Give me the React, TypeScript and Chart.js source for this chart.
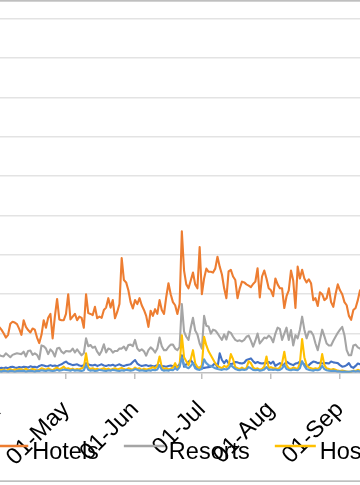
import React, { useEffect, useRef } from 'react';
import { Chart, registerables } from 'chart.js';

Chart.register(...registerables);

// ---- data -----------------------------------------------------------------
const MONTHS = ['Apr', 'May', 'Jun', 'Jul', 'Aug', 'Sep'];
const MONTH_DAYS = [30, 31, 30, 31, 31, 12];

const SERIES_NAMES = ['Apartments', 'Hotels', 'Resorts', 'Hostels', 'Villas'];
const SERIES_COLORS = ['#4472C4', '#ED7D31', '#A5A5A5', '#FFC000', '#5B9BD5'];

const apartments = [
  12, 13, 12, 14, 12, 15, 16, 14, 13, 15,
  14, 16, 15, 14, 17, 15, 16, 14, 18, 20,
  19, 17, 18, 20, 18, 19, 17, 20, 22, 26,
  29, 24, 22, 20, 21, 22, 19, 18, 20, 25,
  22, 20, 19, 21, 18, 20, 22, 19, 18, 20,
  19, 21, 18, 20, 22, 19, 18, 20, 21, 22,
  28, 33, 24, 20, 18, 19, 20, 18, 19, 17,
  18, 20, 19, 18, 17, 16, 18, 19, 17, 16,
  16, 22, 45, 16, 22, 29, 33, 25, 16, 12,
  14, 12, 13, 14, 15, 16, 20, 25, 14, 50,
  33, 25, 33, 24, 22, 24, 28, 27, 25, 24,
  26, 33, 35, 37, 30, 25, 28, 25, 24, 25,
  25, 28, 24, 29, 18, 22, 25, 20, 22, 29,
  25, 22, 20, 24, 25, 29, 26, 22, 16, 20,
  25, 29, 28, 25, 26, 24, 25, 25, 24, 29,
  27, 26, 25, 20, 16, 17, 20, 25, 16, 13,
  18, 24, 22, 20, 21,
];

const hotels = [
  117, 110, 101, 90, 97, 125, 130, 128, 124, 112,
  97, 134, 117, 109, 103, 113, 110, 90, 76, 97,
  134, 115, 140, 150, 88, 143, 188, 136, 134, 134,
  150, 200, 136, 143, 150, 134, 143, 140, 115, 200,
  152, 150, 147, 168, 139, 143, 140, 160, 166, 190,
  166, 185, 139, 155, 175, 292, 236, 230, 210, 180,
  164, 185, 175, 190, 172, 160, 145, 117, 158, 145,
  162, 150, 185, 160, 150, 193, 228, 200, 180, 172,
  150, 175, 360, 260, 225, 215, 235, 255, 225, 215,
  320, 200, 240, 265, 257, 257, 255, 265, 295, 270,
  250, 215, 190, 258, 262, 245, 236, 190, 215, 232,
  230, 225, 222, 218, 226, 232, 266, 192, 245, 260,
  240, 215, 210, 195, 240, 225, 215, 215, 165, 195,
  210, 260, 235, 165, 270, 240, 262, 240, 230, 238,
  228, 185, 190, 170, 205, 200, 185, 190, 215, 180,
  168, 200, 225, 210, 200, 180, 172, 145, 135, 160,
  165, 185, 210, 205, 200,
];

const resorts = [
  46, 43, 42, 50, 45, 40, 46, 48, 50, 49,
  48, 54, 42, 56, 57, 46, 50, 46, 35, 70,
  68, 62, 48, 60, 54, 42, 62, 64, 54, 50,
  56, 55, 55, 62, 52, 60, 52, 45, 50, 88,
  68, 71, 64, 67, 54, 46, 56, 73, 52, 62,
  60, 52, 56, 56, 62, 62, 67, 58, 71, 72,
  68, 84, 62, 56, 60, 55, 44, 58, 65, 60,
  52, 62, 90, 68, 58, 58, 66, 72, 72, 62,
  58, 66, 175, 105, 92, 84, 115, 140, 108, 98,
  75, 62, 145, 120, 118, 100, 110, 108, 101, 92,
  84, 98, 85, 105, 102, 92, 84, 81, 83, 80,
  84, 92, 95, 82, 67, 82, 100, 75, 82, 90,
  88, 95, 90, 78, 100, 115, 112, 84, 100, 115,
  84, 109, 70, 96, 88, 110, 143, 110, 88, 105,
  105, 96, 75, 58, 84, 110, 93, 75, 70, 70,
  82, 92, 102, 110, 117, 96, 58, 45, 45, 70,
  72, 65, 62, 64, 63,
];

const hostels = [
  8, 7, 9, 6, 8, 10, 7, 9, 8, 10,
  9, 8, 11, 7, 8, 10, 9, 6, 8, 12,
  10, 8, 12, 9, 7, 11, 14, 9, 12, 16,
  10, 12, 9, 11, 8, 10, 9, 12, 14, 50,
  14, 10, 12, 9, 11, 8, 10, 12, 9, 11,
  8, 10, 12, 9, 11, 13, 10, 8, 12, 10,
  9, 14, 10, 12, 8, 11, 9, 10, 12, 15,
  12, 18, 42, 15, 10, 12, 9, 11, 14, 25,
  12, 18, 96, 40, 30, 20, 35, 58, 25, 15,
  12, 20, 92, 70, 55, 45, 35, 25, 18, 15,
  12, 18, 15, 20, 48, 35, 15, 12, 10, 14,
  10, 12, 30, 25, 14, 10, 12, 8, 10, 16,
  42, 12, 15, 12, 12, 10, 14, 25, 54, 20,
  12, 10, 14, 12, 10, 25, 86, 40, 20, 14,
  12, 10, 12, 10, 15, 48, 20, 12, 10, 8,
  10, 8, 6, 5, 6, 5, 4, 3, 4, 6,
  5, 8, 6, 6, 5,
];

const villas = [
  5, 4, 6, 5, 4, 6, 5, 4, 5, 6,
  5, 6, 4, 5, 6, 5, 4, 6, 5, 7,
  6, 5, 7, 6, 5, 6, 8, 6, 7, 9,
  8, 7, 6, 8, 6, 7, 6, 5, 7, 20,
  8, 6, 7, 5, 6, 8, 7, 6, 5, 7,
  6, 8, 7, 6, 5, 7, 6, 8, 7, 6,
  7, 10, 8, 6, 7, 6, 5, 7, 6, 8,
  7, 9, 20, 8, 6, 7, 6, 8, 7, 12,
  8, 15, 40, 20, 15, 12, 18, 25, 12, 9,
  8, 10, 35, 25, 20, 18, 15, 12, 10, 9,
  8, 10, 9, 12, 20, 15, 10, 8, 7, 9,
  8, 9, 15, 12, 8, 7, 8, 6, 7, 9,
  15, 8, 9, 8, 9, 7, 8, 12, 20, 10,
  8, 7, 9, 8, 7, 12, 30, 18, 10, 8,
  7, 6, 8, 7, 9, 18, 10, 7, 6, 5,
  6, 5, 4, 4, 3, 4, 3, 3, 4, 5,
  4, 5, 4, 4, 4,
];

const SERIES_VALUES = [apartments, hotels, resorts, hostels, villas];

const Y_MIN = 0;
const Y_MAX = 900;
const Y_STEP = 100;

// ---- helpers ----------------------------------------------------------------
function buildDayLabels(): string[] {
  const out: string[] = [];
  MONTHS.forEach((m, mi) => {
    for (let d = 1; d <= MONTH_DAYS[mi]; d++) {
      out.push(`${d < 10 ? '0' : ''}${d}-${m}`);
    }
  });
  return out;
}

const FONT_FAMILY = '"Liberation Sans", Arial, Helvetica, sans-serif';
const FONT_SIZE = 23.5;

const framePlugin = {
  id: 'outerFrame',
  beforeDraw(chart: any) {
    const { ctx, width } = chart;
    ctx.save();
    ctx.strokeStyle = '#bfbfbf';
    ctx.lineWidth = 1.7;
    ctx.strokeRect(1, 0.85, width - 2, 480.3);
    ctx.restore();
  },
};

const lineLegendPlugin = {
  id: 'lineLegend',
  afterDraw(chart: any) {
    const ctx = chart.ctx;
    ctx.save();
    ctx.font = `${FONT_SIZE}px ${FONT_FAMILY}`;
    const LINE = 41;
    const GAP = 4;
    const SPACE = 25;
    const items = chart.data.datasets.map((ds: any) => ({
      text: ds.label,
      color: ds.borderColor,
      w: ctx.measureText(ds.label).width,
    }));
    const total =
      items.reduce((a: number, it: any) => a + LINE + GAP + it.w, 0) + SPACE * (items.length - 1);
    let x = (chart.width - total) / 2;
    const yLine = 446;
    const yText = 459;
    for (const it of items) {
      ctx.strokeStyle = it.color;
      ctx.lineWidth = 2.5;
      ctx.beginPath();
      ctx.moveTo(x, yLine);
      ctx.lineTo(x + LINE, yLine);
      ctx.stroke();
      ctx.fillStyle = '#000000';
      ctx.textAlign = 'left';
      ctx.textBaseline = 'alphabetic';
      ctx.fillText(it.text, x + LINE + GAP, yText);
      x += LINE + GAP + it.w + SPACE;
    }
    ctx.restore();
  },
};

const CANVAS_W = 521;
const CANVAS_H = 485;
const CANVAS_LEFT = -100;

export default function App() {
  const canvasRef = useRef<HTMLCanvasElement | null>(null);

  useEffect(() => {
    if (!canvasRef.current) return;
    const labels = buildDayLabels();
    const chart = new Chart(canvasRef.current, {
      type: 'line',
      data: {
        labels,
        datasets: SERIES_NAMES.map((name, i) => ({
          label: name,
          data: SERIES_VALUES[i],
          borderColor: SERIES_COLORS[i],
          backgroundColor: SERIES_COLORS[i],
          borderWidth: 2.1,
          pointRadius: 0,
          tension: 0,
          fill: false,
          borderJoinStyle: 'round' as const,
          borderCapStyle: 'round' as const,
          order: SERIES_NAMES.length - i,
        })),
      },
      options: {
        responsive: false,
        animation: false,
        layout: {
          padding: { left: 99.17, right: 56.5, top: 18.5, bottom: 0 },
        },
        plugins: {
          legend: { display: false },
          tooltip: { enabled: false },
        },
        scales: {
          x: {
            type: 'category',
            offset: false,
            grid: {
              drawOnChartArea: false,
              drawTicks: true,
              tickLength: 6,
              color: '#bfbfbf',
              lineWidth: 1.5,
            },
            border: { display: true, color: '#bfbfbf', width: 1.5 },
            ticks: {
              autoSkip: false,
              maxRotation: 45,
              minRotation: 45,
              padding: 17,
              color: '#000000',
              font: { family: FONT_FAMILY, size: FONT_SIZE },
              callback: (_v: any, i: number) =>
                labels[i].startsWith('01-') ? labels[i] : null,
            },
            afterFit: (scale: any) => {
              scale.height = CANVAS_H - 373;
            },
          },
          y: {
            min: Y_MIN,
            max: Y_MAX,
            ticks: { stepSize: Y_STEP, display: false },
            grid: {
              drawTicks: false,
              lineWidth: 1.5,
              color: (c: any) => (c.tick && c.tick.value === Y_MIN ? 'rgba(0,0,0,0)' : '#e3e3e3'),
            },
            border: { display: false },
          },
        },
      },
      plugins: [framePlugin, lineLegendPlugin],
    });
    return () => chart.destroy();
  }, []);

  return (
    <div
      style={{
        position: 'absolute',
        top: 0,
        left: 0,
        width: 360,
        height: 485,
        overflow: 'hidden',
        background: '#ffffff',
      }}
    >
      <canvas
        ref={canvasRef}
        width={CANVAS_W}
        height={CANVAS_H}
        style={{ position: 'absolute', left: CANVAS_LEFT, top: 0, width: CANVAS_W, height: CANVAS_H }}
      />
    </div>
  );
}
